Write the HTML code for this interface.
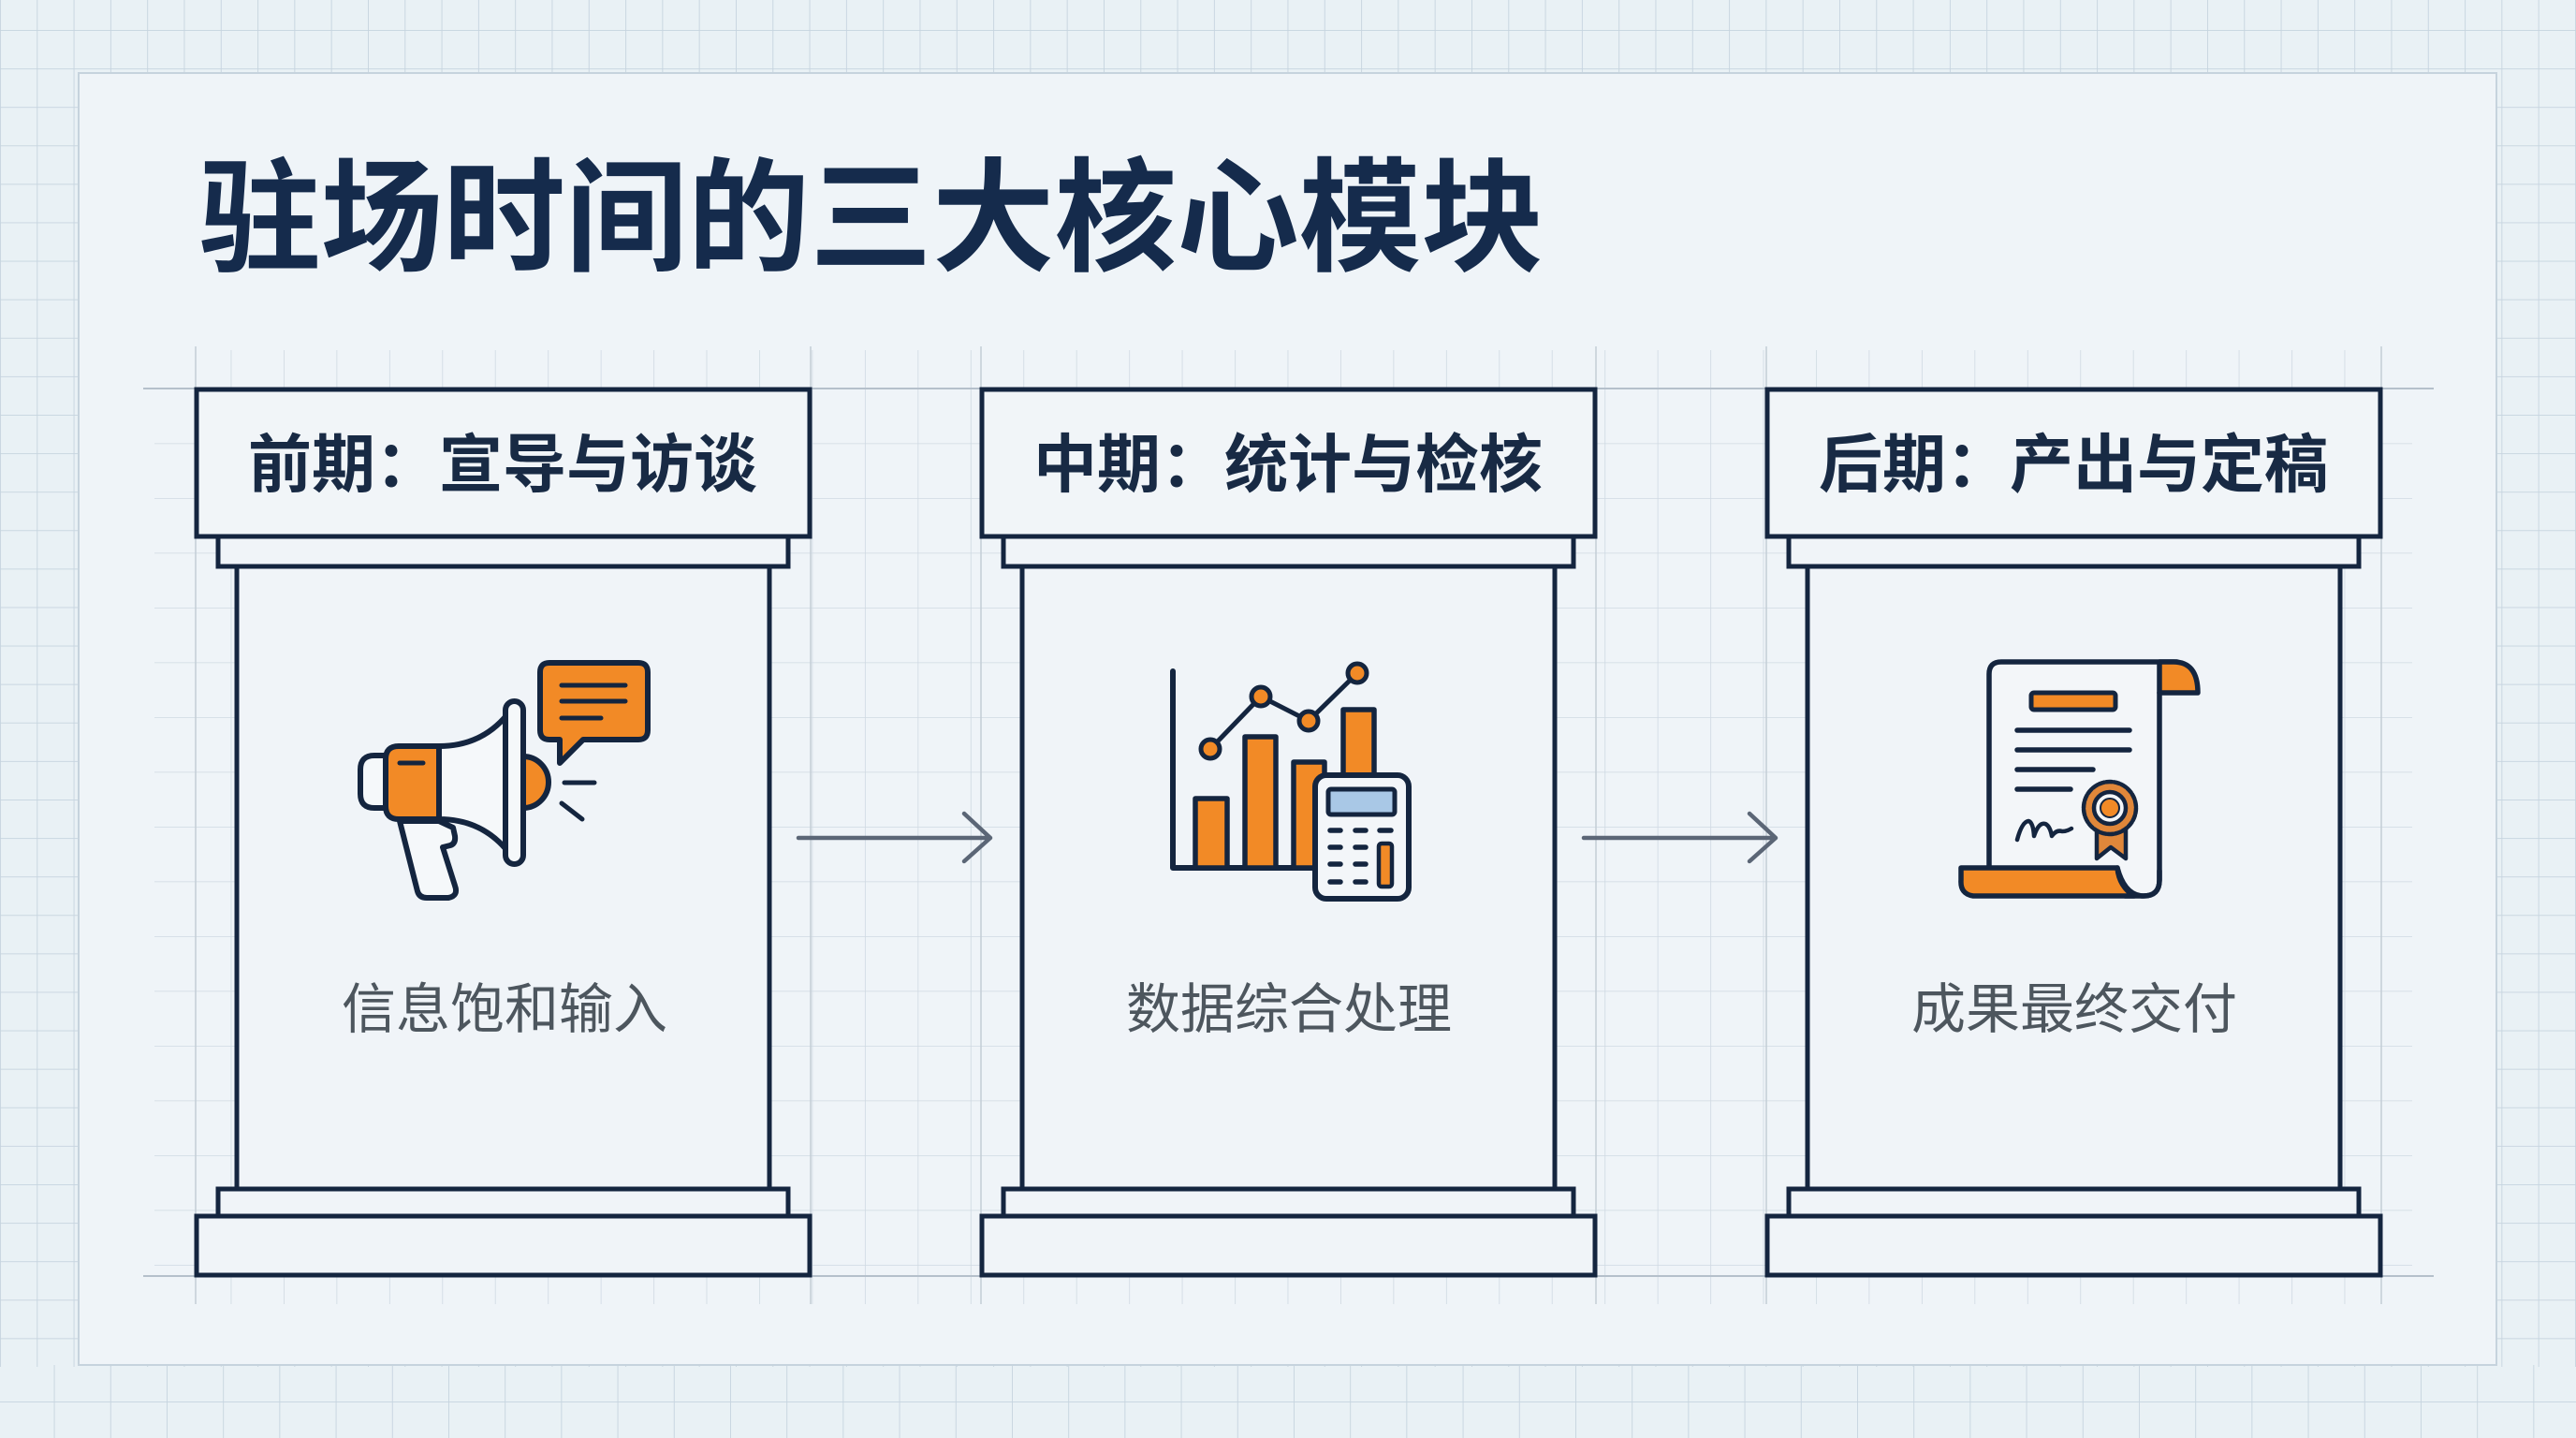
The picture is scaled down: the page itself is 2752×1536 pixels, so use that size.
<!DOCTYPE html>
<html><head><meta charset="utf-8">
<style>
html,body{margin:0;padding:0;width:2752px;height:1536px;overflow:hidden;background:#e9f1f5;}
svg{display:block;}
.ttl{font-family:"Liberation Sans","Noto Sans CJK SC",sans-serif;font-weight:700;fill:#152b4c;}
.hd{font-family:"Liberation Sans","Noto Sans CJK SC",sans-serif;font-weight:700;fill:#182a44;}
.lb{font-family:"Liberation Sans","Noto Sans CJK SC",sans-serif;font-weight:400;fill:#4d565e;}
</style></head>
<body>
<svg width="2752" height="1536" viewBox="0 0 2752 1536" xmlns="http://www.w3.org/2000/svg">
<defs>
  <pattern id="og" x="0" y="32" width="39.3" height="41.1" patternUnits="userSpaceOnUse">
    <path d="M0,0 V41.1 M0,0 H39.3" stroke="#c6d4df" stroke-width="1.8" fill="none"/>
  </pattern>
  <pattern id="bg2" x="178" y="1497" width="60.2" height="60" patternUnits="userSpaceOnUse">
    <path d="M0,0 V60 M0,0 H60.2" stroke="#c6d4df" stroke-width="1.8" fill="none"/>
  </pattern>
  <pattern id="igv" x="20.75" y="0" width="56.45" height="100" patternUnits="userSpaceOnUse">
    <path d="M0,0 V100" stroke="#cfd9e2" stroke-width="1.6" fill="none"/>
  </pattern>
  <pattern id="igh" x="0" y="5.5" width="100" height="58.5" patternUnits="userSpaceOnUse">
    <path d="M0,0 H100" stroke="#cfd9e2" stroke-width="1.6" fill="none"/>
  </pattern>
</defs>

<!-- outer background grid -->
<rect x="0" y="0" width="2752" height="1536" fill="#e9f1f5"/>
<rect x="0" y="0" width="2752" height="1460" fill="url(#og)"/>
<rect x="0" y="1458" width="2752" height="78" fill="url(#bg2)"/>

<!-- panel -->
<rect x="84" y="78" width="2583" height="1380" fill="#eff4f8" stroke="#c6d3dd" stroke-width="2"/>

<!-- inner grid -->
<rect x="200" y="374" width="2350" height="1019" fill="url(#igv)"/>
<rect x="165" y="420" width="2412" height="940" fill="url(#igh)"/>
<g stroke="#c3cdd6" stroke-width="1.5">
  <line x1="209" y1="370" x2="209" y2="1393"/><line x1="866" y1="370" x2="866" y2="1393"/>
  <line x1="1048" y1="370" x2="1048" y2="1393"/><line x1="1705" y1="370" x2="1705" y2="1393"/>
  <line x1="1887" y1="370" x2="1887" y2="1393"/><line x1="2544" y1="370" x2="2544" y2="1393"/>
</g>
<line x1="153" y1="415" x2="2600" y2="415" stroke="#b5c0cb" stroke-width="2"/>
<line x1="153" y1="1363" x2="2600" y2="1363" stroke="#b5c0cb" stroke-width="2"/>

<!-- title -->
<text class="ttl" x="212" y="279" font-size="132" textLength="1437" lengthAdjust="spacingAndGlyphs">驻场时间的三大核心模块</text>

<!-- columns -->
<g id="col" stroke="#14253f" stroke-width="5" fill="#f0f4f8">
  <rect x="253" y="605" width="569" height="665"/>
  <rect x="233" y="573" width="609" height="32"/>
  <rect x="210" y="416" width="655" height="157" fill="#f1f5f8"/>
  <rect x="233" y="1270" width="609" height="29"/>
  <rect x="210" y="1299" width="655" height="63"/>
</g>
<use href="#col" x="839" y="0"/>
<use href="#col" x="1678" y="0"/>

<!-- headers -->
<text class="hd" x="537" y="520" font-size="68" text-anchor="middle">前期：宣导与访谈</text>
<text class="hd" x="1376" y="520" font-size="68" text-anchor="middle">中期：统计与检核</text>
<text class="hd" x="2215" y="520" font-size="68" text-anchor="middle">后期：产出与定稿</text>

<!-- labels -->
<text class="lb" x="539" y="1098" font-size="58" text-anchor="middle">信息饱和输入</text>
<text class="lb" x="1377" y="1098" font-size="58" text-anchor="middle">数据综合处理</text>
<text class="lb" x="2216" y="1098" font-size="58" text-anchor="middle">成果最终交付</text>

<!-- arrows -->
<g stroke="#5b6676" stroke-width="4.5" fill="none" stroke-linecap="round" stroke-linejoin="round">
  <path d="M853,895 H1058 M1030,869 L1058,895 L1030,920"/>
  <path d="M1692,895 H1897 M1869,869 L1897,895 L1869,920"/>
</g>

<!-- megaphone icon -->
<g stroke="#14253f" stroke-width="6" stroke-linejoin="round" stroke-linecap="round">
  <path d="M427,877 L446,952 Q448,959 456,959 L479,959 Q490,957 486,946 L473,905 L481,903 Q487,901 486,893 L484,884 L469,877 Z" fill="#f5f8fa"/>
  <path d="M469,797 Q515,797 543,762 L543,910 Q515,875 469,875 Z" fill="#f5f8fa"/>
  <path d="M412,807 H400 Q385,807 385,822 V848 Q385,863 400,863 H412" fill="#f5f8fa"/>
  <path d="M469,797 H426 Q412,797 412,811 V861 Q412,875 426,875 H469 Z" fill="#f28a26"/>
  <line x1="427" y1="815" x2="452" y2="815" stroke-width="5"/>
  <path d="M559,808 A27,27.5 0 0 1 559,863 Z" fill="#f28a26"/>
  <rect x="540" y="749" width="19" height="174" rx="9.5" fill="#f5f8fa"/>
  <path d="M587,708 H682 Q692,708 692,718 V780 Q692,790 682,790 H623 L598,815 L598,790 H587 Q577,790 577,780 V718 Q577,708 587,708 Z" fill="#f28a26"/>
  <g stroke-width="5">
    <line x1="600" y1="732" x2="668" y2="732"/>
    <line x1="600" y1="749" x2="668" y2="749"/>
    <line x1="600" y1="767" x2="642" y2="767"/>
    <line x1="603" y1="836" x2="635" y2="836"/>
    <line x1="600" y1="858" x2="622" y2="875"/>
  </g>
</g>

<!-- chart + calculator icon -->
<g stroke="#14253f" stroke-width="5.5" stroke-linejoin="round" stroke-linecap="round">
  <path d="M1253,717 V927 H1410" fill="none" stroke-width="6"/>
  <rect x="1277" y="853" width="34" height="74" fill="#f28a26"/>
  <rect x="1330" y="787" width="33" height="140" fill="#f28a26"/>
  <rect x="1382" y="814" width="33" height="113" fill="#f28a26"/>
  <rect x="1435" y="758" width="33" height="100" fill="#f28a26"/>
  <polyline points="1293,800 1347,744 1398,770 1450,719" fill="none" stroke-width="5"/>
  <circle cx="1293" cy="800" r="10" fill="#f28a26" stroke-width="5"/>
  <circle cx="1347" cy="744" r="10" fill="#f28a26" stroke-width="5"/>
  <circle cx="1398" cy="770" r="10" fill="#f28a26" stroke-width="5"/>
  <circle cx="1450" cy="719" r="10" fill="#f28a26" stroke-width="5"/>
  <rect x="1405" y="828" width="100" height="132" rx="12" fill="#f3f6f9" stroke-width="6"/>
  <rect x="1419" y="843" width="71" height="27" rx="3" fill="#a9c8e6" stroke-width="5"/>
  <g stroke-width="5.5">
    <line x1="1421" y1="887" x2="1432" y2="887"/><line x1="1448" y1="887" x2="1459" y2="887"/><line x1="1474" y1="887" x2="1486" y2="887"/>
    <line x1="1421" y1="905" x2="1432" y2="905"/><line x1="1448" y1="905" x2="1459" y2="905"/>
    <line x1="1421" y1="923" x2="1432" y2="923"/><line x1="1448" y1="923" x2="1459" y2="923"/>
    <line x1="1421" y1="942" x2="1432" y2="942"/><line x1="1448" y1="942" x2="1459" y2="942"/>
  </g>
  <rect x="1473" y="901" width="14" height="46" rx="3" fill="#f28a26" stroke-width="4.5"/>
</g>

<!-- certificate icon -->
<g stroke="#14253f" stroke-width="5.5" stroke-linejoin="round" stroke-linecap="round">
  <path d="M2125,930 V720 Q2125,707 2138,707 H2326 L2307,740 V940 Q2307,957 2290,957 L2270,957 Q2262,945 2262,930 Z" fill="#f3f6f9"/>
  <path d="M2307,740 H2348 Q2348,707 2322,707 H2307 Z" fill="#f28a26"/>
  <path d="M2095,927 H2262 Q2264,947 2280,957 H2108 Q2094,955 2095,940 Z" fill="#f28a26"/>
  <path d="M2307,930 V940 Q2307,957 2290,957 Q2270,957 2262,927" fill="none"/>
  <rect x="2170" y="740" width="90" height="18" rx="3" fill="#f28a26" stroke-width="5"/>
  <line x1="2155" y1="780" x2="2275" y2="780"/>
  <line x1="2155" y1="801" x2="2275" y2="801"/>
  <line x1="2155" y1="822" x2="2236" y2="822"/>
  <line x1="2155" y1="843" x2="2212" y2="843"/>
  <path d="M2155,897 Q2160,878 2167,877 Q2172,878 2173,893 Q2178,878 2185,880 Q2190,882 2192,893 Q2197,886 2203,888 Q2208,888 2213,885" fill="none" stroke-width="4.5"/>
  <path d="M2240,883 V917 L2255,905 L2271,917 V883 Z" fill="#e0873a" stroke-width="4.5"/>
  <circle cx="2254" cy="863" r="28" fill="#e0873a" stroke-width="4.5" stroke-dasharray="6 2"/>
  <circle cx="2254" cy="863" r="17" fill="#f3f6f9" stroke-width="4.5"/>
  <circle cx="2254" cy="863" r="10" fill="#f28a26" stroke-width="2"/>
</g>
</svg>
</body></html>
